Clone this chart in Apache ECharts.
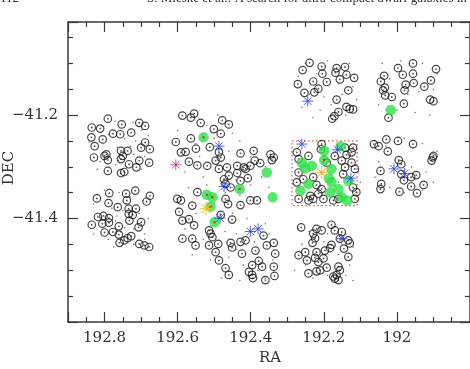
<!DOCTYPE html>
<html>
<head>
<meta charset="utf-8">
<script src="https://cdn.jsdelivr.net/npm/echarts@6/dist/echarts.min.js"></script>
<style>
  html, body { margin: 0; padding: 0; background: #fff; }
  #main { width: 470px; height: 369px; }
</style>
</head>
<body>
<div id="main"></div>
<script>
// RA / DEC, pairs are [RA, DEC]
var circlePts = [
  // field 1 upper
  [192.791,-41.207],[192.753,-41.218],[192.705,-41.215],[192.689,-41.221],[192.835,-41.224],[192.812,-41.226],
  [192.777,-41.236],[192.757,-41.237],[192.727,-41.234],[192.836,-41.243],[192.805,-41.247],[192.689,-41.253],
  [192.827,-41.260],[192.700,-41.263],[192.676,-41.266],[192.755,-41.269],[192.737,-41.269],[192.795,-41.276],
  [192.829,-41.282],[192.800,-41.279],[192.750,-41.279],[192.755,-41.285],[192.791,-41.287],[192.705,-41.288],
  [192.678,-41.292],[192.733,-41.295],[192.713,-41.301],[192.791,-41.308],[192.755,-41.312],[192.746,-41.310],
  // field 1 lower
  [192.787,-41.351],[192.741,-41.352],[192.716,-41.346],[192.676,-41.356],[192.821,-41.361],[192.739,-41.365],
  [192.685,-41.367],[192.789,-41.370],[192.764,-41.378],[192.734,-41.381],[192.714,-41.381],[192.818,-41.397],
  [192.803,-41.395],[192.788,-41.399],[192.734,-41.391],[192.723,-41.393],[192.806,-41.410],[192.788,-41.408],
  [192.761,-41.415],[192.732,-41.404],[192.700,-41.407],[192.835,-41.412],[192.800,-41.427],[192.777,-41.426],
  [192.761,-41.431],[192.707,-41.417],[192.727,-41.434],[192.737,-41.438],[192.746,-41.442],[192.759,-41.447],
  [192.705,-41.449],[192.691,-41.452],[192.678,-41.455],
  // field 2
  [192.587,-41.201],[192.555,-41.197],[192.564,-41.205],[192.537,-41.215],[192.478,-41.210],[192.460,-41.218],
  [192.482,-41.236],[192.501,-41.227],[192.605,-41.252],[192.564,-41.245],[192.591,-41.272],[192.578,-41.271],
  [192.550,-41.265],[192.512,-41.262],[192.487,-41.272],[192.482,-41.282],[192.569,-41.290],[192.546,-41.297],
  [192.519,-41.298],[192.496,-41.288],[192.437,-41.298],[192.428,-41.274],[192.392,-41.269],[192.389,-41.288],
  [192.374,-41.293],[192.346,-41.276],[192.337,-41.282],[192.342,-41.287],[192.401,-41.298],[192.419,-41.301],
  [192.465,-41.301],[192.487,-41.304],[192.437,-41.312],[192.414,-41.304],[192.460,-41.317],[192.408,-41.322],
  [192.473,-41.324],[192.428,-41.327],[192.469,-41.333],[192.455,-41.340],[192.401,-41.365],[192.383,-41.365],
  [192.546,-41.349],[192.601,-41.362],[192.591,-41.365],[192.560,-41.375],[192.469,-41.362],[192.462,-41.372],
  [192.428,-41.374],[192.482,-41.393],[192.596,-41.387],[192.587,-41.404],[192.569,-41.401],[192.555,-41.413],
  [192.514,-41.423],[192.510,-41.429],[192.505,-41.436],[192.451,-41.402],[192.587,-41.439],[192.560,-41.439],
  [192.551,-41.452],[192.514,-41.452],[192.489,-41.449],[192.455,-41.447],[192.451,-41.456],[192.428,-41.445],
  [192.414,-41.442],[192.365,-41.433],[192.356,-41.452],[192.337,-41.447],[192.333,-41.468],[192.424,-41.468],
  [192.387,-41.462],[192.378,-41.482],[192.496,-41.465],[192.487,-41.481],[192.469,-41.496],[192.396,-41.490],
  [192.405,-41.503],[192.369,-41.493],[192.337,-41.493],[192.460,-41.509],[192.396,-41.509],[192.394,-41.515],
  [192.360,-41.519],[192.335,-41.511],
  // field 3 upper
  [192.239,-41.099],[192.206,-41.106],[192.165,-41.109],[192.142,-41.107],[192.258,-41.113],[192.204,-41.120],
  [192.168,-41.118],[192.138,-41.122],[192.117,-41.128],[192.229,-41.135],[192.192,-41.136],[192.156,-41.131],
  [192.271,-41.140],[192.215,-41.149],[192.226,-41.156],[192.253,-41.157],[192.133,-41.152],[192.165,-41.170],
  [192.138,-41.184],[192.129,-41.188],[192.120,-41.189],[192.160,-41.194],[192.171,-41.202],[192.177,-41.207],
  // boxed field
  [192.206,-41.256],[192.142,-41.263],[192.120,-41.263],[192.124,-41.272],[192.138,-41.277],[192.151,-41.288],
  [192.208,-41.266],[192.274,-41.272],[192.269,-41.285],[192.242,-41.279],[192.170,-41.279],[192.192,-41.292],
  [192.142,-41.301],[192.124,-41.292],[192.115,-41.304],[192.147,-41.314],[192.269,-41.311],[192.256,-41.324],
  [192.229,-41.320],[192.274,-41.330],[192.220,-41.335],[192.206,-41.343],[192.215,-41.352],[192.237,-41.356],
  [192.242,-41.365],[192.269,-41.362],[192.229,-41.362],[192.201,-41.362],[192.174,-41.365],[192.120,-41.340],
  [192.111,-41.349],[192.115,-41.362],[192.160,-41.362],[192.063,-41.256],
  // field 4
  [192.262,-41.417],[192.179,-41.412],[192.220,-41.420],[192.206,-41.423],[192.229,-41.429],[192.224,-41.438],
  [192.231,-41.447],[192.170,-41.423],[192.151,-41.426],[192.156,-41.439],[192.133,-41.442],[192.129,-41.448],
  [192.145,-41.458],[192.179,-41.451],[192.183,-41.457],[192.197,-41.462],[192.251,-41.465],[192.269,-41.471],
  [192.220,-41.465],[192.224,-41.476],[192.201,-41.477],[192.246,-41.481],[192.215,-41.484],[192.133,-41.474],
  [192.160,-41.493],[192.156,-41.500],[192.192,-41.495],[192.210,-41.500],[192.220,-41.502],[192.242,-41.506],
  [192.174,-41.512],[192.170,-41.516],[192.160,-41.519],[192.165,-41.509],
  // field 5
  [191.997,-41.109],[191.956,-41.100],[191.893,-41.111],[192.035,-41.124],[191.984,-41.122],[191.956,-41.120],
  [192.044,-41.135],[191.976,-41.141],[191.954,-41.138],[191.907,-41.133],[192.033,-41.147],[192.038,-41.152],
  [191.979,-41.152],[191.925,-41.145],[192.032,-41.162],[192.014,-41.165],[191.909,-41.170],[191.900,-41.173],
  [191.981,-41.178],[192.023,-41.205],
  [192.029,-41.247],[191.997,-41.250],[192.050,-41.260],[191.956,-41.256],[192.025,-41.270],[191.902,-41.282],
  [191.905,-41.288],[191.900,-41.279],[191.995,-41.287],[191.988,-41.295],[192.045,-41.308],[191.988,-41.314],
  [191.961,-41.320],[191.947,-41.316],[191.981,-41.326],[191.927,-41.335],[192.043,-41.333],[191.961,-41.338],
  [192.045,-41.343],[191.993,-41.348],[191.945,-41.351]
];

var dotPts = [
  [192.771,-41.212],[192.722,-41.214],[192.698,-41.229],[192.788,-41.238],[192.745,-41.246],[192.715,-41.25],
  [192.68,-41.24],[192.842,-41.252],[192.765,-41.262],[192.72,-41.276],[192.69,-41.28],[192.812,-41.29],
  [192.77,-41.296],[192.74,-41.3],[192.7,-41.305],[192.82,-41.305],[192.762,-41.288],[192.73,-41.26],
  [192.803,-41.222],[192.683,-41.296],
  [192.8,-41.345],[192.76,-41.35],[192.73,-41.358],[192.695,-41.365],[192.83,-41.372],[192.78,-41.38],
  [192.75,-41.385],[192.705,-41.39],[192.68,-41.4],[192.81,-41.402],[192.77,-41.405],[192.745,-41.418],
  [192.72,-41.42],[192.69,-41.43],[192.83,-41.43],[192.79,-41.44],[192.755,-41.426],[192.72,-41.45],
  [192.69,-41.44],[192.775,-41.455],[192.742,-41.371],[192.766,-41.395],
  [192.57,-41.21],[192.52,-41.22],[192.49,-41.2],[192.45,-41.235],[192.43,-41.25],[192.6,-41.23],
  [192.55,-41.255],[192.5,-41.245],[192.46,-41.27],[192.4,-41.28],[192.36,-41.3],[192.58,-41.31],
  [192.53,-41.32],[192.48,-41.29],[192.44,-41.325],[192.4,-41.335],[192.37,-41.32],[192.35,-41.34],
  [192.57,-41.34],[192.52,-41.335],[192.47,-41.35],[192.43,-41.355],[192.39,-41.36],[192.6,-41.38],
  [192.55,-41.39],[192.5,-41.4],[192.45,-41.39],[192.41,-41.4],[192.36,-41.41],[192.58,-41.42],
  [192.53,-41.44],[192.47,-41.425],[192.44,-41.43],[192.39,-41.445],[192.35,-41.43],[192.56,-41.47],
  [192.51,-41.48],[192.46,-41.475],[192.42,-41.49],[192.38,-41.5],[192.34,-41.48],[192.48,-41.515],
  [192.43,-41.52],[192.36,-41.515],[192.5,-41.37],[192.42,-41.305],[192.54,-41.28],[192.44,-41.46],
  [192.25,-41.1],[192.19,-41.095],[192.13,-41.1],[192.27,-41.125],[192.22,-41.12],[192.16,-41.14],
  [192.12,-41.145],[192.24,-41.16],[192.2,-41.165],[192.15,-41.16],[192.11,-41.17],[192.26,-41.185],
  [192.21,-41.19],[192.18,-41.18],[192.14,-41.2],[192.23,-41.205],
  [192.19,-41.285],[192.186,-41.29],[192.194,-41.296],[192.182,-41.3],[192.2,-41.28],[192.25,-41.3],
  [192.13,-41.28],[192.16,-41.33],[192.27,-41.34],[192.22,-41.37],[192.105,-41.31],[192.1,-41.33],
  [192.27,-41.42],[192.24,-41.425],[192.19,-41.43],[192.14,-41.43],[192.12,-41.455],[192.26,-41.45],
  [192.2,-41.445],[192.16,-41.47],[192.13,-41.49],[192.25,-41.49],[192.23,-41.515],[192.19,-41.51],
  [192.14,-41.51],[192.12,-41.52],[192.28,-41.5],
  [192.04,-41.1],[191.99,-41.095],[191.93,-41.1],[191.89,-41.12],[192.02,-41.13],[191.97,-41.16],
  [191.94,-41.155],[191.9,-41.15],[192.05,-41.18],[192.0,-41.19],[191.95,-41.195],[191.91,-41.2],
  [192.06,-41.25],[192.03,-41.26],[191.98,-41.245],[191.93,-41.255],[191.89,-41.27],[192.05,-41.29],
  [192.0,-41.3],[191.96,-41.3],[191.92,-41.31],[192.06,-41.32],[192.02,-41.34],[191.98,-41.35],
  [191.93,-41.345],[191.9,-41.33]
];

var greenPts = [
  [192.529,-41.243],[192.430,-41.343],[192.356,-41.311],[192.340,-41.359],[192.520,-41.354],[192.505,-41.359],
  [192.510,-41.377],[192.499,-41.407],
  [192.154,-41.260],[192.199,-41.269],[192.260,-41.292],[192.233,-41.298],[192.251,-41.303],[192.179,-41.304],
  [192.199,-41.287],[192.186,-41.322],[192.179,-41.330],[192.242,-41.333],[192.264,-41.346],[192.133,-41.327],
  [192.160,-41.343],[192.183,-41.349],[192.136,-41.365],[192.151,-41.359],
  [192.017,-41.190]
];

var redPts = [
  [192.529,-41.243],[192.520,-41.354],[192.505,-41.359],[192.510,-41.377],[192.499,-41.407],[192.430,-41.343],
  [192.484,-41.399],[192.605,-41.296],[192.473,-41.338],[192.206,-41.311],[192.199,-41.287]
];

var blueStars = [
  [192.487,-41.260],[192.473,-41.338],[192.484,-41.399],[192.401,-41.425],[192.380,-41.420],
  [192.244,-41.173],[192.260,-41.256],[192.163,-41.267],[192.126,-41.322],[192.151,-41.439],
  [192.008,-41.304],[191.979,-41.313]
];
var magentaStars = [[192.605,-41.296]];
var yellowStars = [[192.522,-41.381],[192.206,-41.311]];

// dotted box: [RA left, DEC top], [RA right, DEC bottom]
var boxCorners = [[192.287,-41.250],[192.109,-41.375]];

var raRange = [191.8, 192.9];
var decRange = [-41.6, -41.02];

var starPath = 'path://M5,0L5,10M0,5L10,5M1.5,1.5L8.5,8.5M8.5,1.5L1.5,8.5';
var serif = 'DejaVu Serif';

var myChart = echarts.init(document.getElementById('main'));

function fmtX(v) {
  return String(+v.toFixed(1));
}
function fmtY(v) {
  return v.toFixed(1).replace('-', '\u2212');
}

var axisLine = { lineStyle: { color: '#3a3a3a', width: 1.5 } };
var tick = { inside: true, length: 10, lineStyle: { color: '#3a3a3a', width: 1.2 } };
var minor = { show: true, splitNumber: 4, length: 5, lineStyle: { color: '#3a3a3a', width: 1.2 } };

function xAx(pos, showLabel) {
  return {
    type: 'value', position: pos, inverse: true,
    min: raRange[0], max: raRange[1], interval: 0.2,
    axisLine: axisLine, axisTick: tick, minorTick: minor,
    splitLine: { show: false },
    axisLabel: {
      show: showLabel, showMaxLabel: false, showMinLabel: false,
      margin: 9, color: '#333', fontFamily: serif, fontSize: 15, formatter: fmtX
    }
  };
}
function yAx(pos, showLabel) {
  return {
    type: 'value', position: pos,
    min: decRange[0], max: decRange[1], interval: 0.2,
    axisLine: axisLine, axisTick: tick, minorTick: minor,
    splitLine: { show: false },
    axisLabel: {
      show: showLabel, showMaxLabel: false, showMinLabel: false,
      margin: 10, color: '#333', fontFamily: serif, fontSize: 15, formatter: fmtY
    }
  };
}

var option = {
  animation: false,
  grid: { left: 68, right: -2, top: 22, bottom: 47 },
  xAxis: [xAx('bottom', true), xAx('top', false)],
  yAxis: [yAx('left', true), yAx('right', false)],
  graphic: [
    { type: 'text', left: 0, top: -8, style: { text: '112', font: '13px "Liberation Serif"', fill: '#333' } },
    { type: 'text', left: 147, top: -8, style: { text: 'S. Mieske et al.: A search for ultra-compact dwarf galaxies in', font: '13px "Liberation Serif"', fill: '#333' } },
    { type: 'text', x: 270, y: 358, style: { text: 'RA', font: '15px "DejaVu Serif"', fill: '#333', align: 'center', verticalAlign: 'middle' } },
    { type: 'text', x: 9, y: 168, rotation: Math.PI / 2, style: { text: 'DEC', font: '15px "DejaVu Serif"', fill: '#333', align: 'center', verticalAlign: 'middle' } }
  ],
  series: [
    {
      name: 'box', type: 'scatter', data: [], silent: true,
      markArea: {
        silent: true,
        itemStyle: { color: 'rgba(0,0,0,0)', borderColor: '#e05555', borderWidth: 1.2, borderType: [1.5, 2.5] },
        data: [[{ coord: boxCorners[0] }, { coord: boxCorners[1] }]]
      }
    },
    {
      name: 'dots', type: 'scatter', data: dotPts, symbolSize: 1.6, silent: true,
      itemStyle: { color: '#555' }
    },
    {
      name: 'centres', type: 'scatter', data: circlePts, symbolSize: 1.8, silent: true,
      itemStyle: { color: '#222' }
    },
    {
      name: 'circles', type: 'scatter', data: circlePts, symbol: 'circle', symbolSize: 7.5, silent: true,
      itemStyle: { color: 'rgba(0,0,0,0)', borderColor: '#1a1a1a', borderWidth: 1.2 }
    },
    {
      name: 'green', type: 'scatter', data: greenPts, symbolSize: 10.5, silent: true,
      itemStyle: { color: '#2ee04a' }
    },
    {
      name: 'red', type: 'scatter', data: redPts, symbolSize: 2.5, silent: true,
      itemStyle: { color: '#d62020' }
    },
    {
      name: 'blue', type: 'scatter', data: blueStars, symbol: starPath, symbolSize: 11, silent: true,
      itemStyle: { color: 'none', borderColor: '#2a3ee8', borderWidth: 1 }
    },
    {
      name: 'magenta', type: 'scatter', data: magentaStars, symbol: starPath, symbolSize: 11, silent: true,
      itemStyle: { color: 'none', borderColor: '#b63aa8', borderWidth: 1 }
    },
    {
      name: 'yellow', type: 'scatter', data: yellowStars, symbol: starPath, symbolSize: 13, silent: true,
      itemStyle: { color: 'none', borderColor: '#f0c020', borderWidth: 1.2 }
    }
  ]
};

myChart.setOption(option);
window.addEventListener('resize', function () {
  myChart.resize();
});
</script>
</body>
</html>
